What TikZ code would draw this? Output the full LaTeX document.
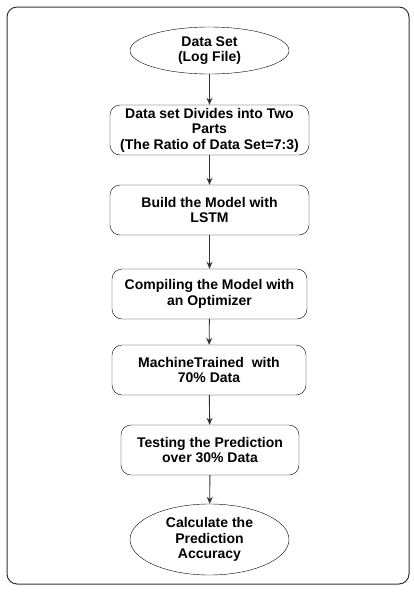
\documentclass[tikz,border=0pt]{standalone}
\usepackage{fontspec}
\setmainfont{Liberation Sans}
\usetikzlibrary{arrows.meta,shapes.geometric}
\tikzset{
  stepbox/.style={draw, rounded corners=10pt, align=center, font=\fontsize{14}{15.5}\selectfont\bfseries, inner sep=0pt},
  termnode/.style={ellipse, draw, align=center, font=\fontsize{14}{15.5}\selectfont\bfseries, inner sep=0pt},
  flow/.style={-{Stealth[length=7pt,width=6pt]}, line width=0.9pt, draw=black!80},
  every picture/.style={line cap=round, line join=round}
}

\begin{document}
\begin{tikzpicture}[x=1pt,y=-1pt]
  \useasboundingbox (0,0) rectangle (414,595);
  \draw[line width=1pt, rounded corners=10pt, draw=black!80] (7,7) rectangle (409,584);
  \node[termnode, minimum width=159pt, minimum height=47pt] (data) at (209.5,50.5) {Data Set\\(Log File)};
  \node[stepbox, minimum width=199pt, minimum height=50pt] (split) at (209.5,130) {Data set Divides into Two\\Parts\\(The Ratio of Data Set=7:3)};
  \node[stepbox, minimum width=199pt, minimum height=50pt] (build) at (209.5,210) {Build the Model with\\LSTM};
  \node[stepbox, minimum width=195pt, minimum height=50pt] (compile) at (209.5,294) {Compiling the Model with\\an Optimizer};
  \node[stepbox, minimum width=194pt, minimum height=50pt] (train) at (209,370) {MachineTrained~ with\\70\% Data};
  \node[stepbox, minimum width=178pt, minimum height=50pt] (test) at (210,450) {Testing the Prediction\\over 30\% Data};
  \node[termnode, minimum width=159pt, minimum height=71pt] (acc) at (209.5,539.5) {Calculate the\\Prediction\\Accuracy};
  \draw[flow] (data) -- (split);
  \draw[flow] (split) -- (build);
  \draw[flow] (build) -- (compile);
  \draw[flow] (compile) -- (train);
  \draw[flow] (train) -- (test);
  \draw[flow] (test) -- (acc);
\end{tikzpicture}
\end{document}
